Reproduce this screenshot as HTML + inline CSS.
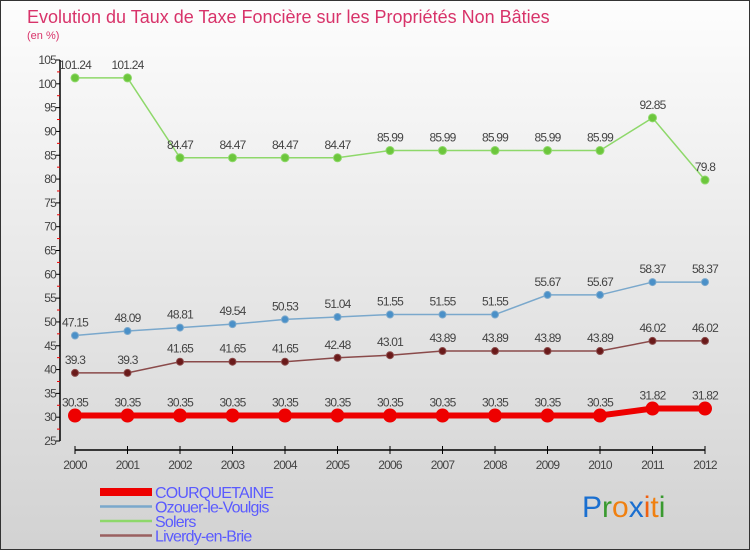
<!DOCTYPE html>
<html><head><meta charset="utf-8"><style>
body{margin:0;}
svg{display:block;font-family:"Liberation Sans",sans-serif;}
</style></head><body>
<svg width="750" height="550" xmlns="http://www.w3.org/2000/svg">
<defs><linearGradient id="bg" x1="0" y1="0" x2="0" y2="1"><stop offset="0" stop-color="#fdfdfd"/><stop offset="1" stop-color="#d2d2d2"/></linearGradient></defs>
<rect x="0.5" y="0.5" width="749" height="549" fill="url(#bg)" stroke="#333"/>
<text x="27" y="23" font-size="18" fill="#d8336a">Evolution du Taux de Taxe Foncière sur les Propriétés Non Bâties</text>
<text x="27" y="39" font-size="11" fill="#d8336a">(en %)</text>
<g id="axes"></g>
<g id="series"></g>
<g id="legend"></g>
<text x="582" y="517" font-size="30"><tspan fill="#1a6fd0">P</tspan><tspan fill="#3a9a30">r</tspan><tspan fill="#f08010">o</tspan><tspan fill="#1a6fd0">x</tspan><tspan fill="#f06010">i</tspan><tspan fill="#f08010">t</tspan><tspan fill="#3a9a30">i</tspan></text>
</svg>
<script>
const years=[2000,2001,2002,2003,2004,2005,2006,2007,2008,2009,2010,2011,2012];
const courquetaine=[30.35,30.35,30.35,30.35,30.35,30.35,30.35,30.35,30.35,30.35,30.35,31.82,31.82];
const ozouer=[47.15,48.09,48.81,49.54,50.53,51.04,51.55,51.55,51.55,55.67,55.67,58.37,58.37];
const solers=[101.24,101.24,84.47,84.47,84.47,84.47,85.99,85.99,85.99,85.99,85.99,92.85,79.8];
const liverdy=[39.3,39.3,41.65,41.65,41.65,42.48,43.01,43.89,43.89,43.89,43.89,46.02,46.02];
const yTicks=[25,30,35,40,45,50,55,60,65,70,75,80,85,90,95,100,105];
const names=["COURQUETAINE","Ozouer-le-Voulgis","Solers","Liverdy-en-Brie"];
const NS="http://www.w3.org/2000/svg";
const X=i=>75+i*52.5;
const Y=v=>60+(105-v)*4.7625;
function mk(tag,attrs,parent,text){const e=document.createElementNS(NS,tag);for(const k in attrs)e.setAttribute(k,attrs[k]);if(text!==undefined)e.textContent=text;parent.appendChild(e);return e;}
const ax=document.getElementById('axes');
let a=mk('line',{x1:60,y1:Y(105),x2:60,y2:Y(25),stroke:'#000','stroke-width':1.5},ax);


yTicks.forEach(t=>{
  mk('line',{x1:56,x2:60,y1:Y(t),y2:Y(t),stroke:'#000'},ax);
  if(t<105) mk('line',{x1:57,x2:60,y1:Y(t+2.5),y2:Y(t+2.5),stroke:'#e00'},ax);
  const tx=mk('text',{x:56,y:Y(t)+4,'font-size':12,'text-anchor':'end',fill:'#444','letter-spacing':'-0.8'},ax,String(t));
  
  
});
a=mk('line',{x1:X(0),y1:450,x2:X(12),y2:450,stroke:'#000','stroke-width':1.5},ax);


years.forEach((y,i)=>{
  mk('line',{x1:X(i),x2:X(i),y1:446,y2:454,stroke:'#000'},ax);
  const tx=mk('text',{x:X(i),y:469,'font-size':12,'text-anchor':'middle',fill:'#444','letter-spacing':'-0.8'},ax,String(y));
  
  
});
const sg=document.getElementById('series');
function series(vals,color,dot,width,r,name){
  const g=mk('g',{},sg);
  
  
  mk('polyline',{points:vals.map((v,i)=>X(i)+','+Y(v)).join(' '),fill:'none',stroke:color,'stroke-width':width},g);
  vals.forEach((v,i)=>{
    const c=mk('circle',{cx:X(i),cy:Y(v),r:r,fill:dot,stroke:color,'stroke-width':1},g);
    
    
    const t=mk('text',{x:X(i),y:Y(v)-9,'font-size':12,'text-anchor':'middle',fill:'#444','letter-spacing':'-0.8'},g,String(v));
    
    
  });
}
series(solers,'#8ed86a','#6cc63c',1.5,4,'solers-series');
series(ozouer,'#7aa8cc','#4a90c8',1.5,3.5,'ozouer-series');
series(liverdy,'#8a4a4a','#6a1a1a',1.5,3.5,'liverdy-series');
series(courquetaine,'#ee0000','#ee0000',6,6.5,'courquetaine-series');
const lg=document.getElementById('legend');
const lc=['#ee0000','#7aa8cc','#8ed86a','#9a6060'],lw=[8,2.5,2.5,2.5];
names.forEach((n,i)=>{
  const y=492+i*14.5;
  const g=mk('g',{},lg);
  
  
  mk('line',{x1:100,x2:152,y1:y,y2:y,stroke:lc[i],'stroke-width':lw[i]},g);
  mk('text',{x:155,y:y+6,'font-size':16,fill:'#5a5aff','letter-spacing':'-0.8'},g,n);
});
</script>
</body></html>
